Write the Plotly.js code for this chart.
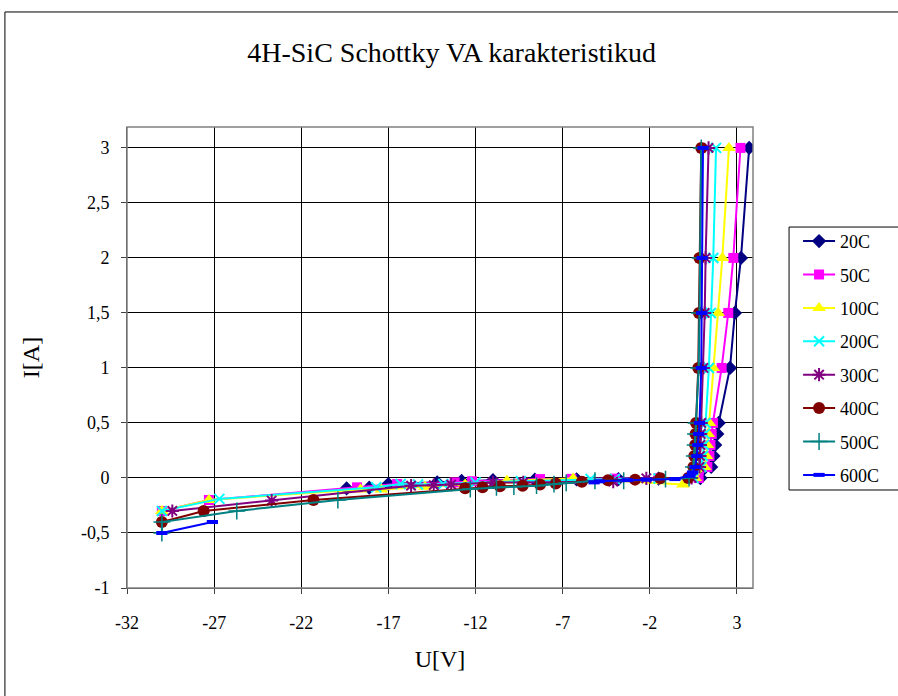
<!DOCTYPE html>
<html><head><meta charset="utf-8">
<script src="https://cdn.plot.ly/plotly-3.0.1.min.js"></script>
<style>html,body{margin:0;padding:0;background:#fff}#chart{width:898px;height:696px}</style>
</head><body><div id="chart"></div>
<script>
const seriesNames = ['20C','50C','100C','200C','300C','400C','500C','600C'];

const u20 = [-19.4,-18.1,-17.0,-14.2,-12.8,-11.0,-8.6,-6.2,-3.8,-1.5,0.9,1.52,1.65,1.75,1.87,1.95,2.6,2.88,3.23,3.7];
const i20 = [-0.095,-0.088,-0.055,-0.04,-0.027,-0.02,-0.015,-0.012,-0.01,-0.005,0,0.1,0.2,0.3,0.4,0.5,1,1.5,2,3];

const u50 = [-30,-27.3,-18.8,-16.5,-13.2,-12.2,-8.3,-6.5,-4.0,-1.5,0.8,1.3,1.42,1.48,1.55,1.62,2.12,2.5,2.79,3.2];
const i50 = [-0.3,-0.2,-0.085,-0.055,-0.04,-0.03,-0.01,-0.008,-0.006,-0.003,0,0.1,0.2,0.3,0.4,0.5,1,1.5,2,3];

const u100 = [-30,-27.3,-18.6,-17.4,-14.9,-12.6,-10.2,-6.4,-0.1,0.6,1.15,1.25,1.3,1.35,1.42,1.64,1.92,2.16,2.54];
const i100 = [-0.3,-0.2,-0.105,-0.105,-0.08,-0.06,-0.025,-0.005,-0.06,0,0.1,0.2,0.3,0.4,0.5,1,1.5,2,3];

const u200 = [-30,-26.7,-17.7,-16.3,-15.3,-13.85,-12.0,-9.4,-5.4,-4.0,-1.5,0.5,0.95,1.05,1.1,1.15,1.2,1.39,1.5,1.64,1.8];
const i200 = [-0.3,-0.19,-0.085,-0.055,-0.06,-0.055,-0.04,-0.03,-0.01,-0.01,-0.005,0,0.1,0.2,0.3,0.4,0.5,1,1.5,2,3];

const u300 = [-29.4,-23.7,-15.7,-14.4,-13.4,-11.0,-9.26,-4.1,-2.2,0.4,0.85,0.88,0.9,0.92,0.95,1.07,1.15,1.2,1.37];
const i300 = [-0.3,-0.205,-0.07,-0.065,-0.06,-0.04,-0.04,-0.033,-0.003,0,0.1,0.2,0.3,0.4,0.5,1,1.5,2,3];

const u400 = [-30,-27.6,-21.3,-12.6,-11.6,-10.6,-9.3,-8.3,-7.4,-5.9,-4.4,-2.85,-1.4,0.2,0.5,0.55,0.6,0.62,0.65,0.78,0.82,0.85,0.95];
const i400 = [-0.4,-0.3,-0.2,-0.094,-0.085,-0.076,-0.07,-0.06,-0.05,-0.034,-0.02,-0.015,-0.003,0,0.1,0.2,0.3,0.4,0.5,1,1.5,2,3];

const u500 = [-30,-30,-25.7,-19.9,-12.3,-10.8,-9.8,-8.5,-7.5,-6.8,-5.15,-3.5,-1.1,0.25,0.5,0.55,0.6,0.62,0.65,0.8,0.85,0.88,0.95];
const i500 = [-0.5,-0.4,-0.3,-0.2,-0.1,-0.085,-0.079,-0.07,-0.055,-0.045,-0.025,-0.025,-0.01,0,0.1,0.2,0.3,0.4,0.5,1,1.5,2,3];

const u600 = [-30,-27.1,null,-5.2,-4.9,-3.3,-2.2,-0.56,0.3,0.45,0.6,0.7,0.75,0.8,0.85,0.95,0.98,1.0,1.05];
const i600 = [-0.5,-0.4,null,-0.04,-0.03,-0.02,-0.015,-0.01,0.02,0.05,0.1,0.2,0.3,0.4,0.5,1,1.5,2,3];

const xTickVals = [-32,-27,-22,-17,-12,-7,-2,3];
const xTickText = ['-32','-27','-22','-17','-12','-7','-2','3'];
const yTickVals = [-1,-0.5,0,0.5,1,1.5,2,2.5,3];
const yTickText = ['-1','-0,5','0','0,5','1','1,5','2','2,5','3'];

const xs = [u20,u50,u100,u200,u300,u400,u500,u600];
const ys = [i20,i50,i100,i200,i300,i400,i500,i600];
const colors = ['#000080','#FF00FF','#FFFF00','#00FFFF','#800080','#800000','#008080','#0000FF'];
const symbols = ['diamond','square','triangle-up','x-thin-open','asterisk-open','circle','cross-thin-open','line-ew-open'];
const sizes = [11,10,12,10,11,12,12,8];
const mlw = [0,0,0,2,2,0,1.5,4];

const FONT = 'Liberation Serif';

const traces = seriesNames.map((n,k)=>({
  type:'scatter', mode:'lines+markers', name:n, x:xs[k], y:ys[k],
  legendgroup:n, connectgaps:false,
  line:{color:colors[k], width:2},
  marker:{symbol:symbols[k], size:sizes[k], color:colors[k], line:{color:colors[k], width:mlw[k]}}
}));

const layout = {
  width:898, height:696,
  margin:{l:127, r:145, t:127, b:108},
  paper_bgcolor:'#fff', plot_bgcolor:'#fff',
  font:{family:FONT, size:17, color:'#000'},
  title:{text:'4H-SiC Schottky VA karakteristikud', font:{family:FONT, size:28, color:'#000'},
         x:0.503, xref:'container', xanchor:'center', y:0.925, yref:'container', yanchor:'middle'},
  xaxis:{range:[-32,3.92], tickvals:xTickVals, ticktext:xTickText, showgrid:true, gridcolor:'#000', gridwidth:1,
         zeroline:false, showline:true, linecolor:'#404040', linewidth:1, ticks:'outside', ticklen:5, tickcolor:'#404040',
         ticklabelstandoff:13, tickfont:{family:FONT,size:18,color:'#000'},
         title:{text:'U[V]', font:{family:FONT,size:24,color:'#000'}, standoff:18}},
  yaxis:{range:[-1,3.19], tickvals:yTickVals, ticktext:yTickText, showgrid:true, gridcolor:'#000', gridwidth:1,
         zeroline:false, showline:true, linecolor:'#404040', linewidth:1, ticks:'outside', ticklen:5, tickcolor:'#404040',
         ticklabelstandoff:8, tickfont:{family:FONT,size:18,color:'#000'},
         title:{text:'I[A]', font:{family:FONT,size:24,color:'#000'}, standoff:34}},
  legend:{x:1.072, xanchor:'left', y:0.792, yanchor:'top', bgcolor:'rgba(0,0,0,0)', borderwidth:0,
          font:{family:FONT,size:18,color:'#000'}, traceorder:'grouped', tracegroupgap:7, itemwidth:32},
  shapes:[
    {type:'rect', xref:'paper', yref:'paper', x0:0, x1:1, y0:0, y1:1, line:{color:'#808080', width:1.5}, layer:'above'},
    {type:'rect', xref:'paper', yref:'paper', x0:1.0576, x1:1.4, y0:0.2126, y1:0.783, line:{color:'#000', width:1}},
    {type:'rect', xref:'paper', yref:'paper', x0:-0.195, x1:1.5, y0:-0.5, y1:1.2495, line:{color:'#000', width:1}}
  ],
  showlegend:true
};

Plotly.newPlot('chart', traces, layout, {displayModeBar:false, staticPlot:true});
</script>
</body></html>
